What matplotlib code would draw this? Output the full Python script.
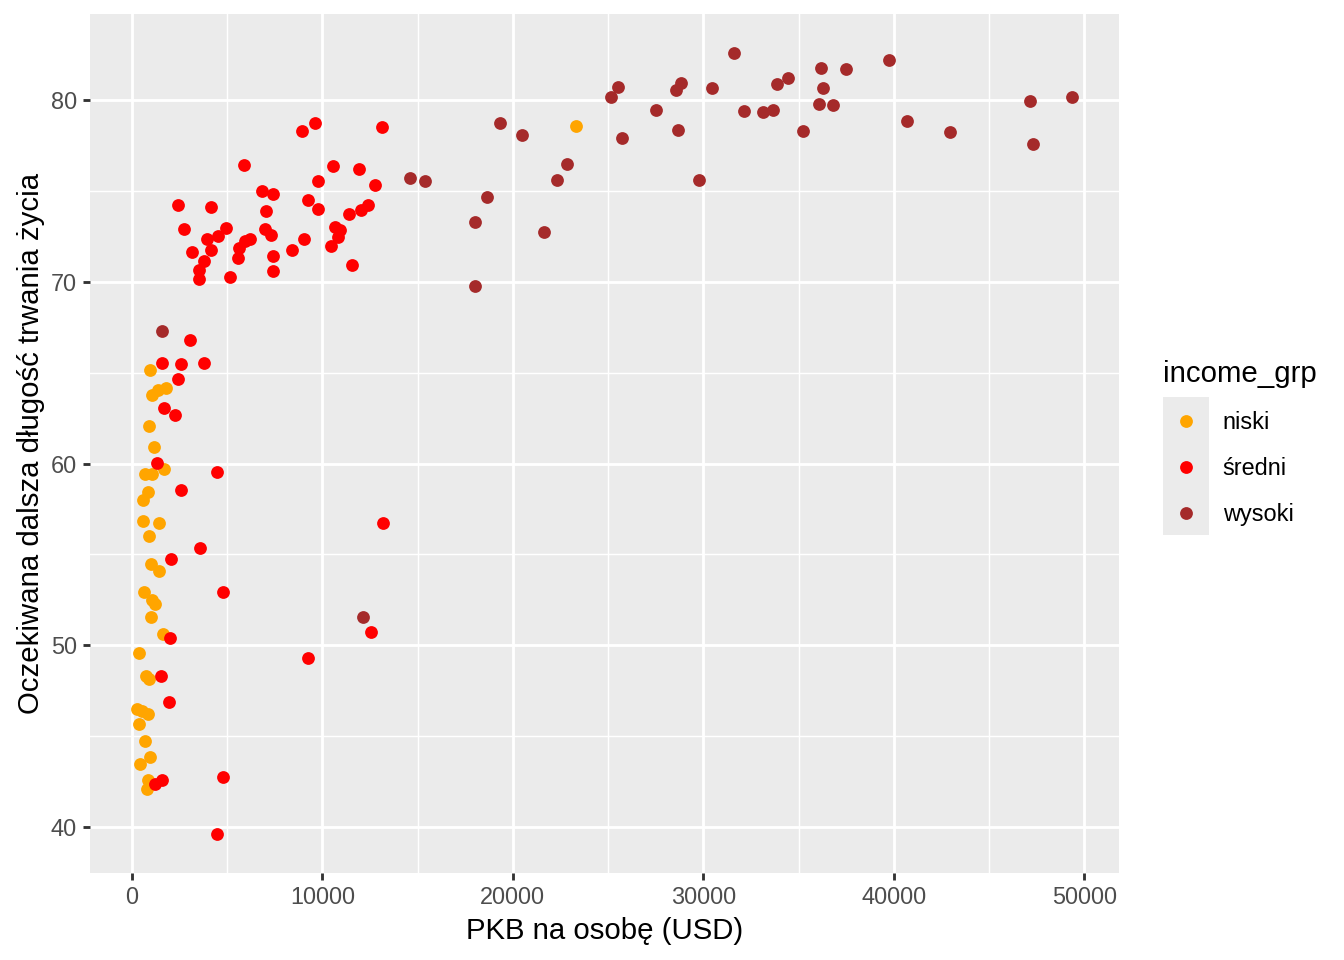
import matplotlib
matplotlib.use("Agg")
import matplotlib.pyplot as plt
from matplotlib.lines import Line2D
from matplotlib.patches import Rectangle

plt.rcParams['font.family'] = ['Liberation Sans', 'DejaVu Sans']

# --- data -------------------------------------------------------------
niski_gdp = [961, 1800, 1365, 1050, 908, 1171, 1695, 698, 1050, 871, 609, 609,
             1417, 924, 1013, 1449, 661, 1081, 1223, 1029, 1659, 399, 751, 924,
             262, 556, 871, 399, 698, 961, 451, 840, 803, 23321]
niski_life = [65.14, 64.17, 64.07, 63.76, 62.05, 60.90, 59.72, 59.45, 59.45, 58.42,
              58.02, 56.86, 56.71, 56.00, 54.48, 54.11, 52.94, 52.51, 52.28, 51.54,
              50.64, 49.58, 48.29, 48.15, 46.50, 46.40, 46.24, 45.67, 44.71, 43.82,
              43.48, 42.57, 42.09, 78.62]

sredni_gdp = [3060, 1575, 2588, 3795, 2415, 1695, 2273, 1312, 4462, 2588, 3601, 2063,
              4777, 2010, 1522, 1974, 1575, 1239, 4777, 4493, 9254, 12561, 13191,
              5910, 2430, 4163, 2729, 4934, 4514, 3937, 4163, 3165, 3795, 3533, 3533,
              5160, 5564, 5648, 5947, 6210, 6855, 7433, 7065, 6981, 7312, 7401, 7433,
              8430, 9044, 9238, 9795, 9779, 10582, 11947, 12771, 12419, 12036, 11406,
              10671, 10934, 10813, 10446, 11579, 8939, 9621, 13138]
sredni_life = [66.79, 65.54, 65.49, 65.56, 64.68, 63.07, 62.70, 60.04, 59.54, 58.55,
               55.36, 54.77, 52.91, 50.42, 48.33, 46.86, 42.60, 42.37, 42.73, 39.61,
               49.32, 50.75, 56.75,
               76.42, 74.26, 74.15, 72.90, 72.98, 72.54, 72.39, 71.76, 71.67, 71.18,
               70.68, 70.18, 70.28, 71.34, 71.87, 72.28, 72.35, 74.99, 74.86, 73.93,
               72.92, 72.57, 71.41, 70.61, 71.78, 72.39, 74.53, 75.54, 74.00, 76.41,
               76.20, 75.32, 74.26, 73.97, 73.75, 73.03, 72.84, 72.48, 71.98, 70.96,
               78.33, 78.77, 78.55]

wysoki_gdp = [1575, 12141, 14608, 15380, 19316, 20503, 22833, 22308, 18650, 18004,
              21642, 18004, 25510, 25159, 25752, 27521, 28555, 28817, 28691, 29778,
              30460, 31630, 32140, 33153, 33678, 33856, 34433, 35252, 36166, 36302,
              36092, 36795, 37494, 39714, 40680, 42953, 47152, 47294, 49356]
wysoki_life = [67.28, 51.58, 75.74, 75.58, 78.76, 78.10, 76.48, 75.63, 74.66, 73.32,
               72.77, 69.80, 80.75, 80.20, 77.93, 79.49, 80.55, 80.96, 78.40, 75.63,
               80.66, 82.61, 79.42, 79.36, 79.45, 80.90, 81.23, 78.33, 81.76, 80.66,
               79.83, 79.76, 81.71, 82.20, 78.88, 78.24, 79.98, 77.58, 80.20]

groups = ['niski', 'średni', 'wysoki']
colors = ['orange', 'red', 'brown']
x_ticks = [0, 10000, 20000, 30000, 40000, 50000]
y_ticks = [40, 50, 60, 70, 80]

# --- figure -----------------------------------------------------------
fig = plt.figure(figsize=(7, 5), dpi=192)
ax = fig.add_axes([90/1344, 1 - 873/960, (1119 - 90)/1344, (873 - 14)/960])
ax.set_facecolor('#EBEBEB')
for s in ax.spines.values():
    s.set_visible(False)

series = [(niski_gdp, niski_life), (sredni_gdp, sredni_life), (wysoki_gdp, wysoki_life)]
for (gx, gy), g, c in zip(series, groups, colors):
    ax.scatter(gx, gy, s=23, color=c, linewidths=0, label=g, zorder=3)

allx = niski_gdp + sredni_gdp + wysoki_gdp
ally = niski_life + sredni_life + wysoki_life
rx = max(allx) - min(allx)
ry = max(ally) - min(ally)
ax.set_xlim(min(allx) - 0.05 * rx, max(allx) + 0.05 * rx)
ax.set_ylim(min(ally) - 0.05 * ry, max(ally) + 0.05 * ry)

ax.set_xticks(x_ticks)
ax.set_xticklabels([str(v) for v in x_ticks])
ax.set_yticks(y_ticks)
ax.set_yticklabels([str(v) for v in y_ticks])
ax.set_xticks([5000, 15000, 25000, 35000, 45000], minor=True)
ax.set_yticks([45, 55, 65, 75], minor=True)
ax.grid(which='major', color='white', linewidth=1.07, zorder=1)
ax.grid(which='minor', color='white', linewidth=0.53, zorder=1)
ax.set_axisbelow(True)
ax.tick_params(which='major', length=2.75, width=1.07, color='#333333',
               labelsize=8.8, labelcolor='#4D4D4D', pad=2.2)
ax.tick_params(which='minor', length=0)

ax.set_xlabel('PKB na osobę (USD)', fontsize=11, color='black', labelpad=3)
ax.set_ylabel('Oczekiwana dalsza długość trwania życia', fontsize=11, color='black', labelpad=2)

# legend
handles = [Line2D([0], [0], marker='o', linestyle='', markersize=4.8,
                  markerfacecolor=c, markeredgewidth=0) for c in colors]
fig.add_artist(Rectangle((1163/1344, 1 - 535/960), 46/1344, 138/960,
                         transform=fig.transFigure, facecolor='#EBEBEB',
                         edgecolor='none', zorder=0))
leg = fig.legend(handles, groups, loc='upper left',
                 bbox_to_anchor=(1144/1344, 1 - 341/960),
                 frameon=False, title='income_grp', title_fontsize=11,
                 fontsize=8.8, labelspacing=0.98, handletextpad=0.6,
                 handlelength=1.96, borderpad=0.3)
leg._legend_box.align = 'left'

fig.savefig('out.png', dpi=192)
